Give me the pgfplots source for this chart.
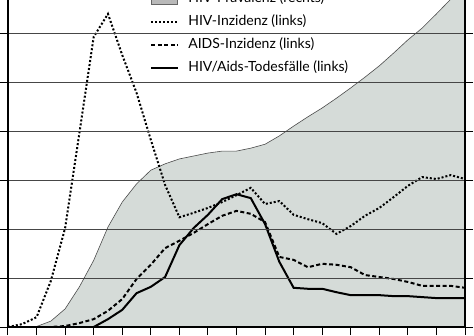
\documentclass[border=0pt]{standalone}
\usepackage{pgfplots}
\pgfplotsset{compat=1.18}
\usepackage{fontspec}
\setmainfont{Lato}
\definecolor{prevfill}{RGB}{213,219,216}
\definecolor{gridc}{RGB}{70,70,70}
\pgfplotsset{
  mylinelegend/.style={legend image code/.code={\draw[##1] (0pt,0pt) -- (27pt,0pt);}},
  myarealegend/.style={legend image code/.code={\draw[fill=gray!55, draw=gray!80!black] (0pt,-5pt) rectangle (26pt,5pt);}},
}
\begin{document}
\begin{tikzpicture}
\begin{axis}[
  at={(8pt,8pt)}, anchor=south west, scale only axis,
  width=457pt, height=343pt,
  xmin=0, xmax=32, ymin=0, ymax=7,
  xtick={0,2,...,32}, ytick={0,1,...,7},
  xticklabels={}, yticklabels={},
  tick align=outside, major tick length=8pt,
  xtick pos=bottom, ytick pos=both,
  ymajorgrids, grid style={gridc, line width=0.8pt},
  axis line style={line width=1.2pt},
  every tick/.style={black, line width=1pt},
  axis on top,
  legend cell align=left,
  legend style={draw=none, fill=none, at={(0.311,0.975)}, anchor=north west,
    font=\fontsize{14}{16}\selectfont, row sep=10pt, column sep=9pt, inner sep=0pt,
    nodes={inner sep=0pt, text height=10pt, text depth=3pt}},
]
\addplot[fill=prevfill, draw=gray!60!black, line width=0.6pt, myarealegend]
  table {
x y
0 0
1 0
2 0.01
3 0.12
4 0.37
5 0.82
6 1.36
7 2.04
8 2.55
9 2.92
10 3.20
11 3.33
12 3.43
13 3.49
14 3.55
15 3.59
16 3.59
17 3.65
18 3.73
19 3.90
20 4.10
21 4.29
22 4.47
23 4.67
24 4.88
25 5.10
26 5.33
27 5.59
28 5.86
29 6.10
30 6.39
31 6.69
32 6.98
} \closedcycle;
\addlegendentry{HIV-Prävalenz (rechts)}
\addplot[black, line width=2pt, dash pattern=on 2pt off 2pt, mylinelegend]
  table {
x y
0 0
1 0.06
2 0.20
3 0.94
4 2.02
5 3.96
6 5.92
7 6.39
8 5.55
9 4.78
10 3.82
11 2.90
12 2.24
13 2.33
14 2.43
15 2.55
16 2.69
17 2.84
18 2.51
19 2.57
20 2.29
21 2.20
22 2.12
23 1.90
24 2.06
25 2.27
26 2.43
27 2.65
28 2.88
29 3.06
30 3.02
31 3.10
32 3.02
};
\addlegendentry{HIV-Inzidenz (links)}
\addplot[black, line width=2pt, dash pattern=on 4pt off 2.5pt, mylinelegend]
  table {
x y
0 0
1 0
2 0
3 0
4 0.02
5 0.08
6 0.16
7 0.33
8 0.57
9 0.98
10 1.27
11 1.61
12 1.76
13 1.92
14 2.10
15 2.27
16 2.37
17 2.31
18 2.14
19 1.43
20 1.37
21 1.22
22 1.29
23 1.27
24 1.22
25 1.06
26 1.02
27 0.98
28 0.92
29 0.84
30 0.84
31 0.84
32 0.80
};
\addlegendentry{AIDS-Inzidenz (links)}
\addplot[black, line width=2pt, mylinelegend]
  table {
x y
0 0
1 0
2 0
3 0
4 0
5 0
6 0
7 0.16
8 0.35
9 0.69
10 0.82
11 1.02
12 1.67
13 2.02
14 2.29
15 2.61
16 2.71
17 2.63
18 2.10
19 1.33
20 0.80
21 0.78
22 0.78
23 0.71
24 0.65
25 0.65
26 0.65
27 0.63
28 0.63
29 0.61
30 0.59
31 0.59
32 0.59
};
\addlegendentry{HIV/Aids-Todesfälle (links)}
\end{axis}
\pgfresetboundingbox
\useasboundingbox (0,0) rectangle (474pt,335pt);
\end{tikzpicture}
\end{document}
